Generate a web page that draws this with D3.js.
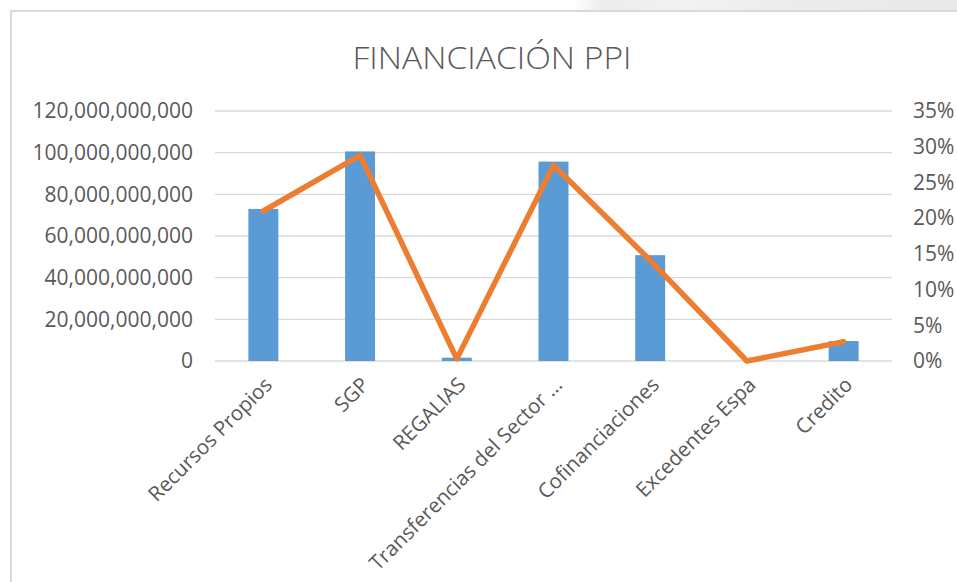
<!DOCTYPE html>
<html>
<head>
<meta charset="utf-8">
<script src="https://cdn.jsdelivr.net/npm/d3@7/dist/d3.min.js"></script>
<style>
  html, body { margin: 0; padding: 0; background: #fff; }
  svg { display: block; }
  text { font-family: "Open Sans", sans-serif; fill: #595959; }
</style>
</head>
<body>
<svg id="chart" width="957" height="582"></svg>
<script>
const title = "FINANCIACIÓN PPI";
const categories = ["Recursos Propios", "SGP", "REGALIAS", "Transferencias del Sector ...", "Cofinanciaciones", "Excedentes Espa", "Credito"];
const amounts = [73.0e9, 100.6e9, 1.6e9, 95.7e9, 50.8e9, 0, 9.6e9];
const shares = [0.210, 0.288, 0.003, 0.274, 0.141, 0.0, 0.027];
const leftTicks = [0, 20e9, 40e9, 60e9, 80e9, 100e9, 120e9];
const rightTicks = [0, 0.05, 0.10, 0.15, 0.20, 0.25, 0.30, 0.35];

const svg = d3.select("#chart");
const W = 957, H = 582;
const plot = { left: 215, right: 892, top: 111, bottom: 361 };

// faint background strip at top right
const defs = svg.append("defs");
const grad = defs.append("linearGradient").attr("id", "wm").attr("x1", "0").attr("x2", "1").attr("y1", "0").attr("y2", "0");
grad.append("stop").attr("offset", "0").attr("stop-color", "#ffffff");
grad.append("stop").attr("offset", "0.08").attr("stop-color", "#ececec");
grad.append("stop").attr("offset", "0.3").attr("stop-color", "#f2f2f2");
grad.append("stop").attr("offset", "0.6").attr("stop-color", "#ebebeb");
grad.append("stop").attr("offset", "1").attr("stop-color", "#e9e9e9");
svg.append("rect").attr("x", 573).attr("y", 0).attr("width", W - 573).attr("height", 11).attr("fill", "url(#wm)");

// chart area border
svg.append("rect").attr("x", 11).attr("y", 11).attr("width", W + 20).attr("height", H + 20)
  .attr("fill", "#fff").attr("stroke", "#d9d9d9").attr("stroke-width", 2);

const x = d3.scaleBand().domain(categories).range([plot.left, plot.right]).padding(0);
const yL = d3.scaleLinear().domain([0, 120e9]).range([plot.bottom, plot.top]);
const yR = d3.scaleLinear().domain([0, 0.35]).range([plot.bottom, plot.top]);

// gridlines
svg.append("g").selectAll("line").data(leftTicks).join("line")
  .attr("x1", plot.left).attr("x2", plot.right)
  .attr("y1", d => yL(d)).attr("y2", d => yL(d))
  .attr("stroke", "#d9d9d9").attr("stroke-width", 1.4);

// left axis
const axL = svg.append("g").attr("transform", `translate(${plot.left},0)`)
  .call(d3.axisLeft(yL).tickValues(leftTicks).tickFormat(d3.format(",")).tickSize(0).tickPadding(22));
axL.select(".domain").remove();
axL.selectAll("text").attr("font-size", 21).attr("fill", "#595959").style("font-family", "'Open Sans', sans-serif");

// right axis
const axR = svg.append("g").attr("transform", `translate(${plot.right},0)`)
  .call(d3.axisRight(yR).tickValues(rightTicks).tickFormat(d3.format(".0%")).tickSize(0).tickPadding(21));
axR.select(".domain").remove();
axR.selectAll("text").attr("font-size", 21).attr("fill", "#595959").style("font-family", "'Open Sans', sans-serif");

// bars
const bw = x.bandwidth() * 0.31;
svg.append("g").selectAll("rect").data(categories).join("rect")
  .attr("x", d => x(d) + x.bandwidth() / 2 - bw / 2)
  .attr("width", bw)
  .attr("y", (d, i) => yL(amounts[i]))
  .attr("height", (d, i) => yL(0) - yL(amounts[i]))
  .attr("fill", "#5b9bd5");

// line
const line = d3.line()
  .x((d, i) => x(categories[i]) + x.bandwidth() / 2)
  .y(d => yR(d));
svg.append("path").datum(shares).attr("d", line)
  .attr("fill", "none").attr("stroke", "#ed7d31").attr("stroke-width", 5.5)
  .attr("stroke-linejoin", "round").attr("stroke-linecap", "round");

// x labels
svg.append("g").selectAll("text").data(categories).join("text")
  .attr("transform", d => `translate(${x(d) + x.bandwidth() / 2 + 5},${plot.bottom + 20}) rotate(-45)`)
  .attr("text-anchor", "end")
  .attr("dy", "0.35em")
  .attr("font-size", 20.5)
  .text(d => d);

// title
svg.append("text").attr("x", 492).attr("y", 69)
  .attr("text-anchor", "middle").attr("font-size", 32).attr("font-weight", 300)
  .attr("textLength", 279).attr("lengthAdjust", "spacingAndGlyphs")
  .text(title);
</script>
</body>
</html>
